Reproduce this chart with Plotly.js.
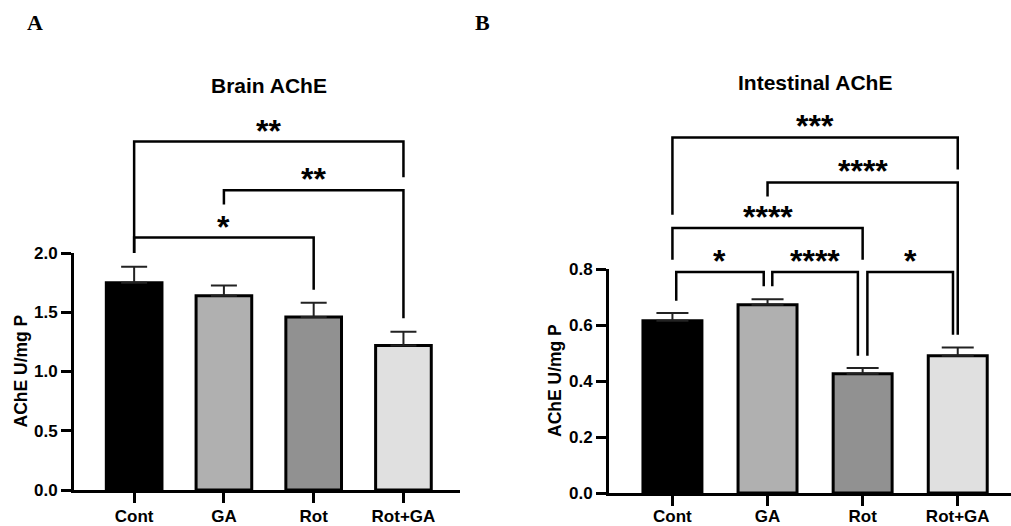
<!DOCTYPE html>
<html><head><meta charset="utf-8">
<script src="https://cdn.plot.ly/plotly-3.0.1.min.js"></script>
<style>body{margin:0;background:#fff}#chart{width:1011px;height:526px}</style>
</head><body><div id="chart"></div><script>
// ---- data ----
const categories = ['Cont', 'GA', 'Rot', 'Rot+GA'];
const barColors = ['#000000', '#b0b0b0', '#919191', '#e0e0e0'];
const brainMean = [1.75, 1.64, 1.46, 1.22];
const brainSEM = [0.135, 0.085, 0.12, 0.115];
const intestMean = [0.615, 0.672, 0.426, 0.490];
const intestSEM = [0.028, 0.020, 0.020, 0.030];
const brainTicks = [0, 0.5, 1.0, 1.5, 2.0];
const intestTicks = [0, 0.2, 0.4, 0.6, 0.8];
// significance comparisons: groups a,b, label, bracket top value, leg end values
const brainComparisons = [
  {a: 0, b: 3, label: '**', top: 2.94, endA: 2.0, endB: 2.64},
  {a: 1, b: 3, label: '**', top: 2.53, endA: 2.41, endB: 1.45},
  {a: 0, b: 2, label: '*', top: 2.13, endA: 2.0, endB: 1.69}
];
const intestComparisons = [
  {a: 0, b: 3, label: '***', top: 1.27, endA: 0.994, endB: 1.155},
  {a: 1, b: 3, label: '****', top: 1.109, endA: 1.059, endB: 0.565},
  {a: 0, b: 2, label: '****', top: 0.946, endA: 0.833, endB: 0.833},
  {a: 0, b: 1, label: '*', top: 0.789, endA: 0.687, endB: 0.738, inset: 0.04},
  {a: 1, b: 2, label: '****', top: 0.789, endA: 0.738, endB: 0.49, inset: 0.05},
  {a: 2, b: 3, label: '*', top: 0.789, endA: 0.49, endB: 0.565, inset: 0.05}
];

const FONT = 'Liberation Sans, Arial, sans-serif';
const xs = categories.map((c, i) => i);

function barTrace(means, sems, xa, ya, capw) {
  return {
    type: 'bar', x: xs, y: means, xaxis: xa, yaxis: ya, width: 0.62,
    marker: {color: barColors, line: {color: '#000', width: 3}},
    error_y: {type: 'data', array: sems, arrayminus: sems.map(() => 0), symmetric: false,
              color: '#222', thickness: 2, width: capw},
    hoverinfo: 'none', showlegend: false
  };
}

const traces = [
  barTrace(brainMean, brainSEM, 'x', 'y', 13),
  barTrace(intestMean, intestSEM, 'x2', 'y2', 16)
];

const shapes = [];
const annotations = [];
function addBrackets(list, xa, ya, ymax) {
  list.forEach(c => {
    const inset = c.inset || 0;
    const xa0 = c.a + inset, xb0 = c.b - inset;
    shapes.push({
      type: 'path', xref: xa, yref: ya + ' domain',
      path: `M ${xa0},${c.endA / ymax} L ${xa0},${c.top / ymax} L ${xb0},${c.top / ymax} L ${xb0},${c.endB / ymax}`,
      line: {color: '#000', width: 2.5}
    });
    annotations.push({
      xref: xa, yref: ya + ' domain', x: (c.a + c.b) / 2, y: c.top / ymax,
      text: '<b>' + c.label + '</b>', showarrow: false, yanchor: 'bottom', yshift: -9,
      font: {family: FONT, size: 32, color: '#000'}
    });
  });
}
addBrackets(brainComparisons, 'x', 'y', 2.0);
addBrackets(intestComparisons, 'x2', 'y2', 0.8);

// titles and labels
annotations.push(
  {xref: 'x', yref: 'paper', x: 1.5, y: 1 - 86 / 526, text: '<b>Brain AChE</b>', showarrow: false,
   xanchor: 'center', yanchor: 'middle', font: {family: FONT, size: 21, color: '#000'}},
  {xref: 'x2', yref: 'paper', x: 1.5, y: 1 - 83 / 526, text: '<b>Intestinal AChE</b>', showarrow: false,
   xanchor: 'center', yanchor: 'middle', font: {family: FONT, size: 21, color: '#000'}},
  {xref: 'paper', yref: 'y domain', x: 20 / 1011, y: 0.5, text: '<b>AChE U/mg P</b>', textangle: -90,
   xanchor: 'center', yanchor: 'middle', showarrow: false, font: {family: FONT, size: 17.5, color: '#000'}},
  {xref: 'paper', yref: 'y2 domain', x: 555 / 1011, y: 0.5, text: '<b>AChE U/mg P</b>', textangle: -90,
   xanchor: 'center', yanchor: 'middle', showarrow: false, font: {family: FONT, size: 17.5, color: '#000'}},
  {xref: 'paper', yref: 'paper', x: 35 / 1011, y: 1 - 22 / 526, text: '<b>A</b>', showarrow: false,
   xanchor: 'center', yanchor: 'middle',
   font: {family: 'Liberation Serif, Times New Roman, serif', size: 22, color: '#000'}},
  {xref: 'paper', yref: 'paper', x: 482 / 1011, y: 1 - 22 / 526, text: '<b>B</b>', showarrow: false,
   xanchor: 'center', yanchor: 'middle',
   font: {family: 'Liberation Serif, Times New Roman, serif', size: 22, color: '#000'}}
);

function xAxis(domain, range, standoff) {
  return {domain: domain, range: range, tickvals: xs, ticktext: categories,
    showline: true, linewidth: 3, linecolor: '#000', ticks: 'outside', ticklen: 10, tickwidth: 3,
    tickcolor: '#000', showgrid: false, zeroline: false, fixedrange: true, ticklabelstandoff: standoff,
    tickfont: {family: FONT, size: 17, color: '#000', weight: 'bold'}};
}
function yAxis(domain, ticks, anchor) {
  return {domain: domain, range: [0, ticks[ticks.length - 1]], tickvals: ticks,
    ticktext: ticks.map(t => t.toFixed(1)), anchor: anchor,
    showline: true, linewidth: 3, linecolor: '#000', ticks: 'outside', ticklen: 10, tickwidth: 3,
    tickcolor: '#000', showgrid: false, zeroline: false, fixedrange: true,
    tickfont: {family: FONT, size: 17, color: '#000', weight: 'bold'}};
}

const layout = {
  width: 1011, height: 526, margin: {l: 0, r: 0, t: 0, b: 0},
  paper_bgcolor: '#fff', plot_bgcolor: '#fff', showlegend: false,
  xaxis: Object.assign(xAxis([74 / 1011, 460 / 1011], [-0.67, 3.63], -1), {anchor: 'y'}),
  yaxis: yAxis([36 / 526, 273 / 526], brainTicks, 'x'),
  xaxis2: Object.assign(xAxis([609 / 1011, 1], [-0.667, 3.56], -4), {anchor: 'y2'}),
  yaxis2: yAxis([33 / 526, 257 / 526], intestTicks, 'x2'),
  shapes: shapes, annotations: annotations
};

Plotly.newPlot('chart', traces, layout, {staticPlot: true, displayModeBar: false});
</script></body></html>
